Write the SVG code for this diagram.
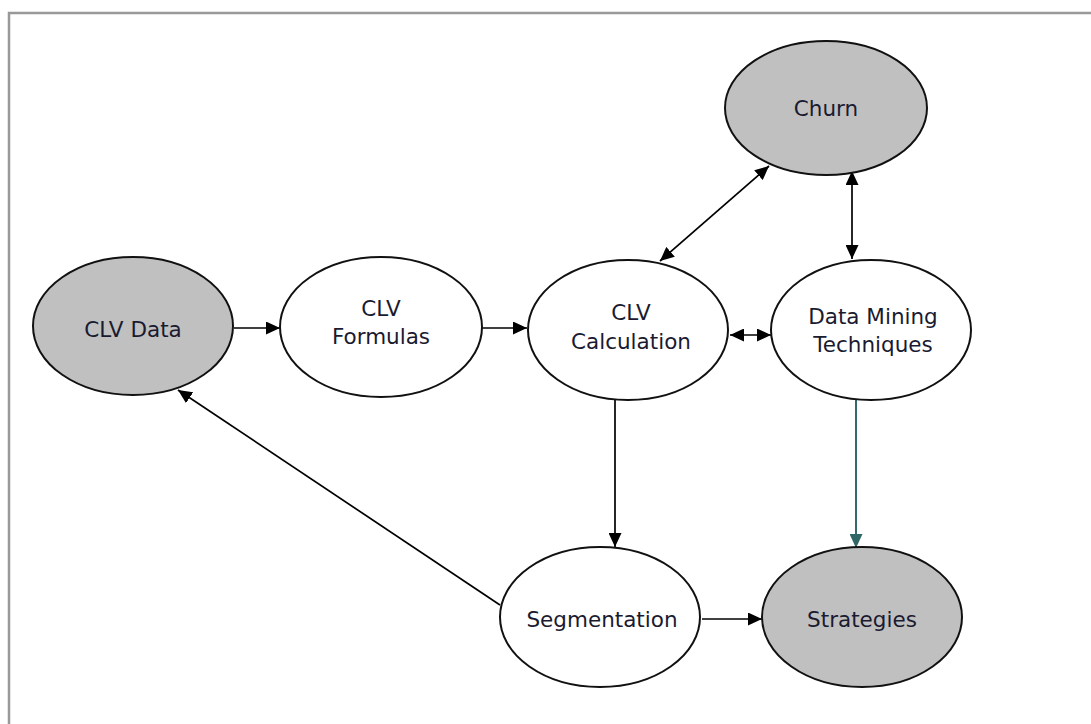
<svg xmlns="http://www.w3.org/2000/svg" width="1091" height="724" viewBox="0 0 1091 724">
<style>
.node ellipse{stroke:#111;stroke-width:2}
.g{fill:#c0c0c0}
.w{fill:#fff}
text{font-family:"DejaVu Sans","Verdana",sans-serif;font-size:21.5px;fill:#1a1a30;text-anchor:middle}
.c line{stroke:#000;stroke-width:1.7;fill:none}
.c line.t{stroke:#336b6b;stroke-width:2}
</style>
<defs>
<marker id="a" viewBox="0 0 14 13" refX="14" refY="6.5" markerWidth="14" markerHeight="13" markerUnits="userSpaceOnUse" orient="auto-start-reverse"><path d="M0,0L14,6.5L0,13z" fill="#000"/></marker>
<marker id="at" viewBox="0 0 14 13" refX="14" refY="6.5" markerWidth="14" markerHeight="13" markerUnits="userSpaceOnUse" orient="auto"><path d="M0,0L14,6.5L0,13z" fill="#2f6666"/></marker>
</defs>
<rect width="1091" height="724" fill="#fff"/>
<path d="M9,724V13H1091" fill="none" stroke="#999" stroke-width="2.5"/>
<g class="c">
<line x1="234" y1="328" x2="280" y2="328" marker-end="url(#a)"/>
<line x1="482" y1="328" x2="527" y2="328" marker-end="url(#a)"/>
<line x1="730" y1="335" x2="771" y2="335" marker-start="url(#a)" marker-end="url(#a)"/>
<line x1="660" y1="261" x2="769" y2="166" marker-start="url(#a)" marker-end="url(#a)"/>
<line x1="852" y1="171" x2="852" y2="259" marker-start="url(#a)" marker-end="url(#a)"/>
<line x1="615" y1="400" x2="615" y2="547" marker-end="url(#a)"/>
<line class="t" x1="856" y1="396" x2="856" y2="548" marker-end="url(#at)"/>
<line x1="702" y1="619" x2="762" y2="619" marker-end="url(#a)"/>
<line x1="500" y1="605" x2="178" y2="390" marker-end="url(#a)"/>
</g>
<g id="clv-data" class="node"><ellipse class="g" cx="133" cy="326" rx="100" ry="69"/><text x="133" y="337">CLV Data</text></g>
<g id="clv-formulas" class="node"><ellipse class="w" cx="381" cy="327" rx="101" ry="70"/><text x="381" y="316">CLV</text><text x="381" y="344">Formulas</text></g>
<g id="clv-calculation" class="node"><ellipse class="w" cx="628" cy="330" rx="100" ry="70"/><text x="631" y="320">CLV</text><text x="631" y="349">Calculation</text></g>
<g id="data-mining" class="node"><ellipse class="w" cx="871" cy="330" rx="100" ry="70"/><text x="873" y="324">Data Mining</text><text x="873" y="352">Techniques</text></g>
<g id="churn" class="node"><ellipse class="g" cx="826" cy="108" rx="101" ry="67"/><text x="826" y="116">Churn</text></g>
<g id="segmentation" class="node"><ellipse class="w" cx="600" cy="617" rx="100" ry="70"/><text x="602" y="627">Segmentation</text></g>
<g id="strategies" class="node"><ellipse class="g" cx="862" cy="617" rx="100" ry="70"/><text x="862" y="627">Strategies</text></g>
</svg>
